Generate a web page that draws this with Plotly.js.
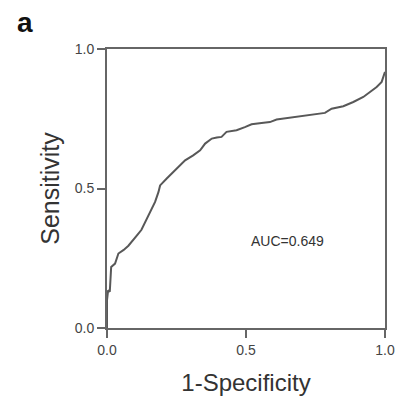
<!DOCTYPE html>
<html>
<head>
<meta charset="utf-8">
<script src="https://cdn.plot.ly/plotly-3.0.1.min.js"></script>
<style>html,body{margin:0;padding:0;background:#fff;}#chart{width:399px;height:396px;}</style>
</head>
<body>
<div id="chart"></div>
<script>
var fpr = [0, 0, 0.004, 0.010, 0.015, 0.029, 0.041, 0.060, 0.077, 0.095, 0.110, 0.124, 0.140, 0.149, 0.160, 0.173, 0.185, 0.191, 0.214, 0.232, 0.250, 0.281, 0.310, 0.335, 0.353, 0.377, 0.395, 0.412, 0.430, 0.466, 0.496, 0.520, 0.556, 0.586, 0.610, 0.658, 0.700, 0.742, 0.784, 0.808, 0.850, 0.886, 0.922, 0.946, 0.970, 0.988, 0.994, 1.0];
var tpr = [0, 0.10, 0.135, 0.13, 0.219, 0.231, 0.267, 0.280, 0.295, 0.315, 0.335, 0.352, 0.385, 0.404, 0.428, 0.452, 0.487, 0.511, 0.535, 0.553, 0.571, 0.601, 0.619, 0.637, 0.661, 0.679, 0.683, 0.685, 0.703, 0.709, 0.720, 0.730, 0.735, 0.738, 0.747, 0.754, 0.759, 0.765, 0.771, 0.786, 0.795, 0.810, 0.828, 0.846, 0.864, 0.882, 0.900, 0.918];
var tickVals = [0, 0.5, 1];
var tickText = ["0.0", "0.5", "1.0"];
var aucLabel = "AUC=0.649";
var panelLabel = "a";

var trace = {
  x: fpr, y: tpr, type: "scatter", mode: "lines",
  line: {color: "#585858", width: 2},
  hoverinfo: "skip", showlegend: false
};

var axisCommon = {
  range: [0, 1], showgrid: false, zeroline: false,
  showline: true, mirror: true, linecolor: "#666666", linewidth: 2,
  ticks: "outside", ticklen: 8, tickwidth: 2, tickcolor: "#666666",
  tickvals: tickVals, ticktext: tickText,
  tickfont: {family: "Liberation Sans, Arial, sans-serif", size: 14, color: "#444444"},
  fixedrange: true
};

var layout = {
  width: 399, height: 396,
  margin: {l: 107, r: 14, t: 49, b: 68},
  paper_bgcolor: "#ffffff", plot_bgcolor: "#ffffff",
  xaxis: Object.assign({}, axisCommon, {
    title: {text: "1-Specificity", font: {family: "Liberation Sans, Arial, sans-serif", size: 24, color: "#333333"}, standoff: 26}
  }),
  yaxis: Object.assign({}, axisCommon, {
    title: {text: "Sensitivity", font: {family: "Liberation Sans, Arial, sans-serif", size: 25, color: "#333333"}, standoff: 8}
  }),
  annotations: [
    {text: aucLabel, xref: "x", yref: "y", x: 0.651, y: 0.311, showarrow: false,
     font: {family: "Liberation Sans, Arial, sans-serif", size: 14, color: "#333333"}},
    {text: "<b>" + panelLabel + "</b>", xref: "paper", yref: "paper", x: -0.33, y: 1.032,
     xanchor: "left", yanchor: "bottom", showarrow: false,
     font: {family: "Liberation Sans, Arial, sans-serif", size: 28, color: "#111111"}}
  ]
};

Plotly.newPlot("chart", [trace], layout, {displayModeBar: false, staticPlot: true});
</script>
</body>
</html>
